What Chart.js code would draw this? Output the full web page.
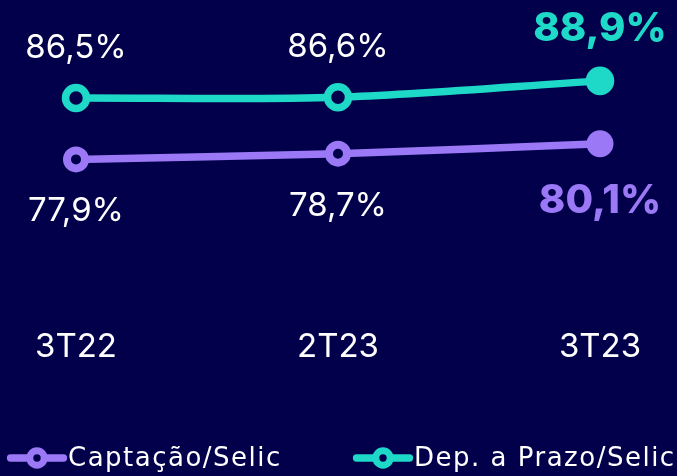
<!DOCTYPE html>
<html>
<head>
<meta charset="utf-8">
<script src="https://cdn.jsdelivr.net/npm/chart.js@4.4.0/dist/chart.umd.min.js"></script>
<style>
  html, body { margin: 0; padding: 0; background: #03004b; }
  #wrap { width: 677px; height: 476px; }
</style>
</head>
<body>
<div id="wrap"><canvas id="chart" width="677" height="476"></canvas></div>
<script>
const categories = ['3T22', '2T23', '3T23'];
const captacaoSelic = [77.9, 78.7, 80.1];
const depPrazoSelic = [86.5, 86.6, 88.9];
const seriesNames = ['Captação/Selic', 'Dep. a Prazo/Selic'];

const BG = '#03004b';
const PURPLE = '#9a78f6';
const TEAL = '#1ed8c8';
const FONT = 'Inter, "Open Sans", sans-serif';
const LEGEND_FONT = '"DejaVu Sans", sans-serif';

const fmt = v => v.toFixed(1).replace('.', ',') + '%';

// value labels over / under the points, last one bold and coloured
const valueLabels = {
    id: 'valueLabels',
    afterDatasetsDraw(chart) {
        const ctx = chart.ctx;
        ctx.save();
        ctx.textAlign = 'center';
        ctx.textBaseline = 'middle';
        chart.data.datasets.forEach((ds, di) => {
            const meta = chart.getDatasetMeta(di);
            meta.data.forEach((pt, i) => {
                const last = i === ds.data.length - 1;
                const up = ds.labelSide === 'above';
                let dy = up ? (last ? -52 : -50) : (last ? 57 : 52);
                ctx.font = last ? '800 40px ' + FONT : '400 33px ' + FONT;
                ctx.fillStyle = last ? ds.borderColor : '#ffffff';
                ctx.fillText(fmt(ds.data[i]), pt.x, pt.y + dy);
            });
        });
        ctx.restore();
    }
};

// legend with line + ring marker
const legendX = [7, 353];
const lineLegend = {
    id: 'lineLegend',
    afterDraw(chart) {
        const ctx = chart.ctx;
        ctx.save();
        ctx.font = '400 26px ' + LEGEND_FONT;
        if ('letterSpacing' in ctx) ctx.letterSpacing = '1.5px';
        ctx.textBaseline = 'middle';
        ctx.textAlign = 'left';
        const markW = 60, cy = 458;
        chart.data.datasets.forEach((ds, di) => {
            const x = legendX[di];
            ctx.strokeStyle = ds.borderColor;
            ctx.lineWidth = 7.3;
            ctx.lineCap = 'round';
            ctx.beginPath();
            ctx.moveTo(x + 3.5, cy);
            ctx.lineTo(x + markW - 3.5, cy);
            ctx.stroke();
            ctx.beginPath();
            ctx.arc(x + markW / 2, cy, 7.2, 0, Math.PI * 2);
            ctx.fillStyle = BG;
            ctx.fill();
            ctx.lineWidth = 7;
            ctx.stroke();
            ctx.fillStyle = '#ffffff';
            ctx.fillText(ds.label, x + markW + 1, cy + 1);
        });
        ctx.restore();
    }
};

new Chart(document.getElementById('chart'), {
    type: 'line',
    data: {
        labels: categories,
        datasets: [
            {
                label: seriesNames[0],
                data: captacaoSelic,
                labelSide: 'below',
                borderColor: PURPLE,
                borderWidth: 7.5,
                tension: 0.3,
                pointRadius: [9, 9, 13.5],
                pointBorderWidth: [8, 8, 0],
                pointBackgroundColor: [BG, BG, PURPLE],
                pointBorderColor: PURPLE,
                clip: false
            },
            {
                label: seriesNames[1],
                data: depPrazoSelic,
                labelSide: 'above',
                borderColor: TEAL,
                borderWidth: 7.5,
                tension: 0.3,
                pointRadius: [10.5, 10.5, 14.3],
                pointBorderWidth: [7.5, 7.5, 0],
                pointBackgroundColor: [BG, BG, TEAL],
                pointBorderColor: TEAL,
                clip: false
            }
        ]
    },
    options: {
        responsive: false,
        animation: false,
        events: [],
        layout: { padding: { left: 76, right: 77, top: 0, bottom: 82 } },
        plugins: {
            legend: { display: false },
            tooltip: { enabled: false }
        },
        scales: {
            x: {
                offset: false,
                grid: { display: false, drawTicks: false },
                border: { display: false },
                ticks: { color: '#ffffff', padding: 27, font: { family: FONT, size: 33 } }
            },
            y: {
                display: false,
                min: 58.14,
                max: 97.71
            }
        }
    },
    plugins: [valueLabels, lineLegend]
});
</script>
</body>
</html>
